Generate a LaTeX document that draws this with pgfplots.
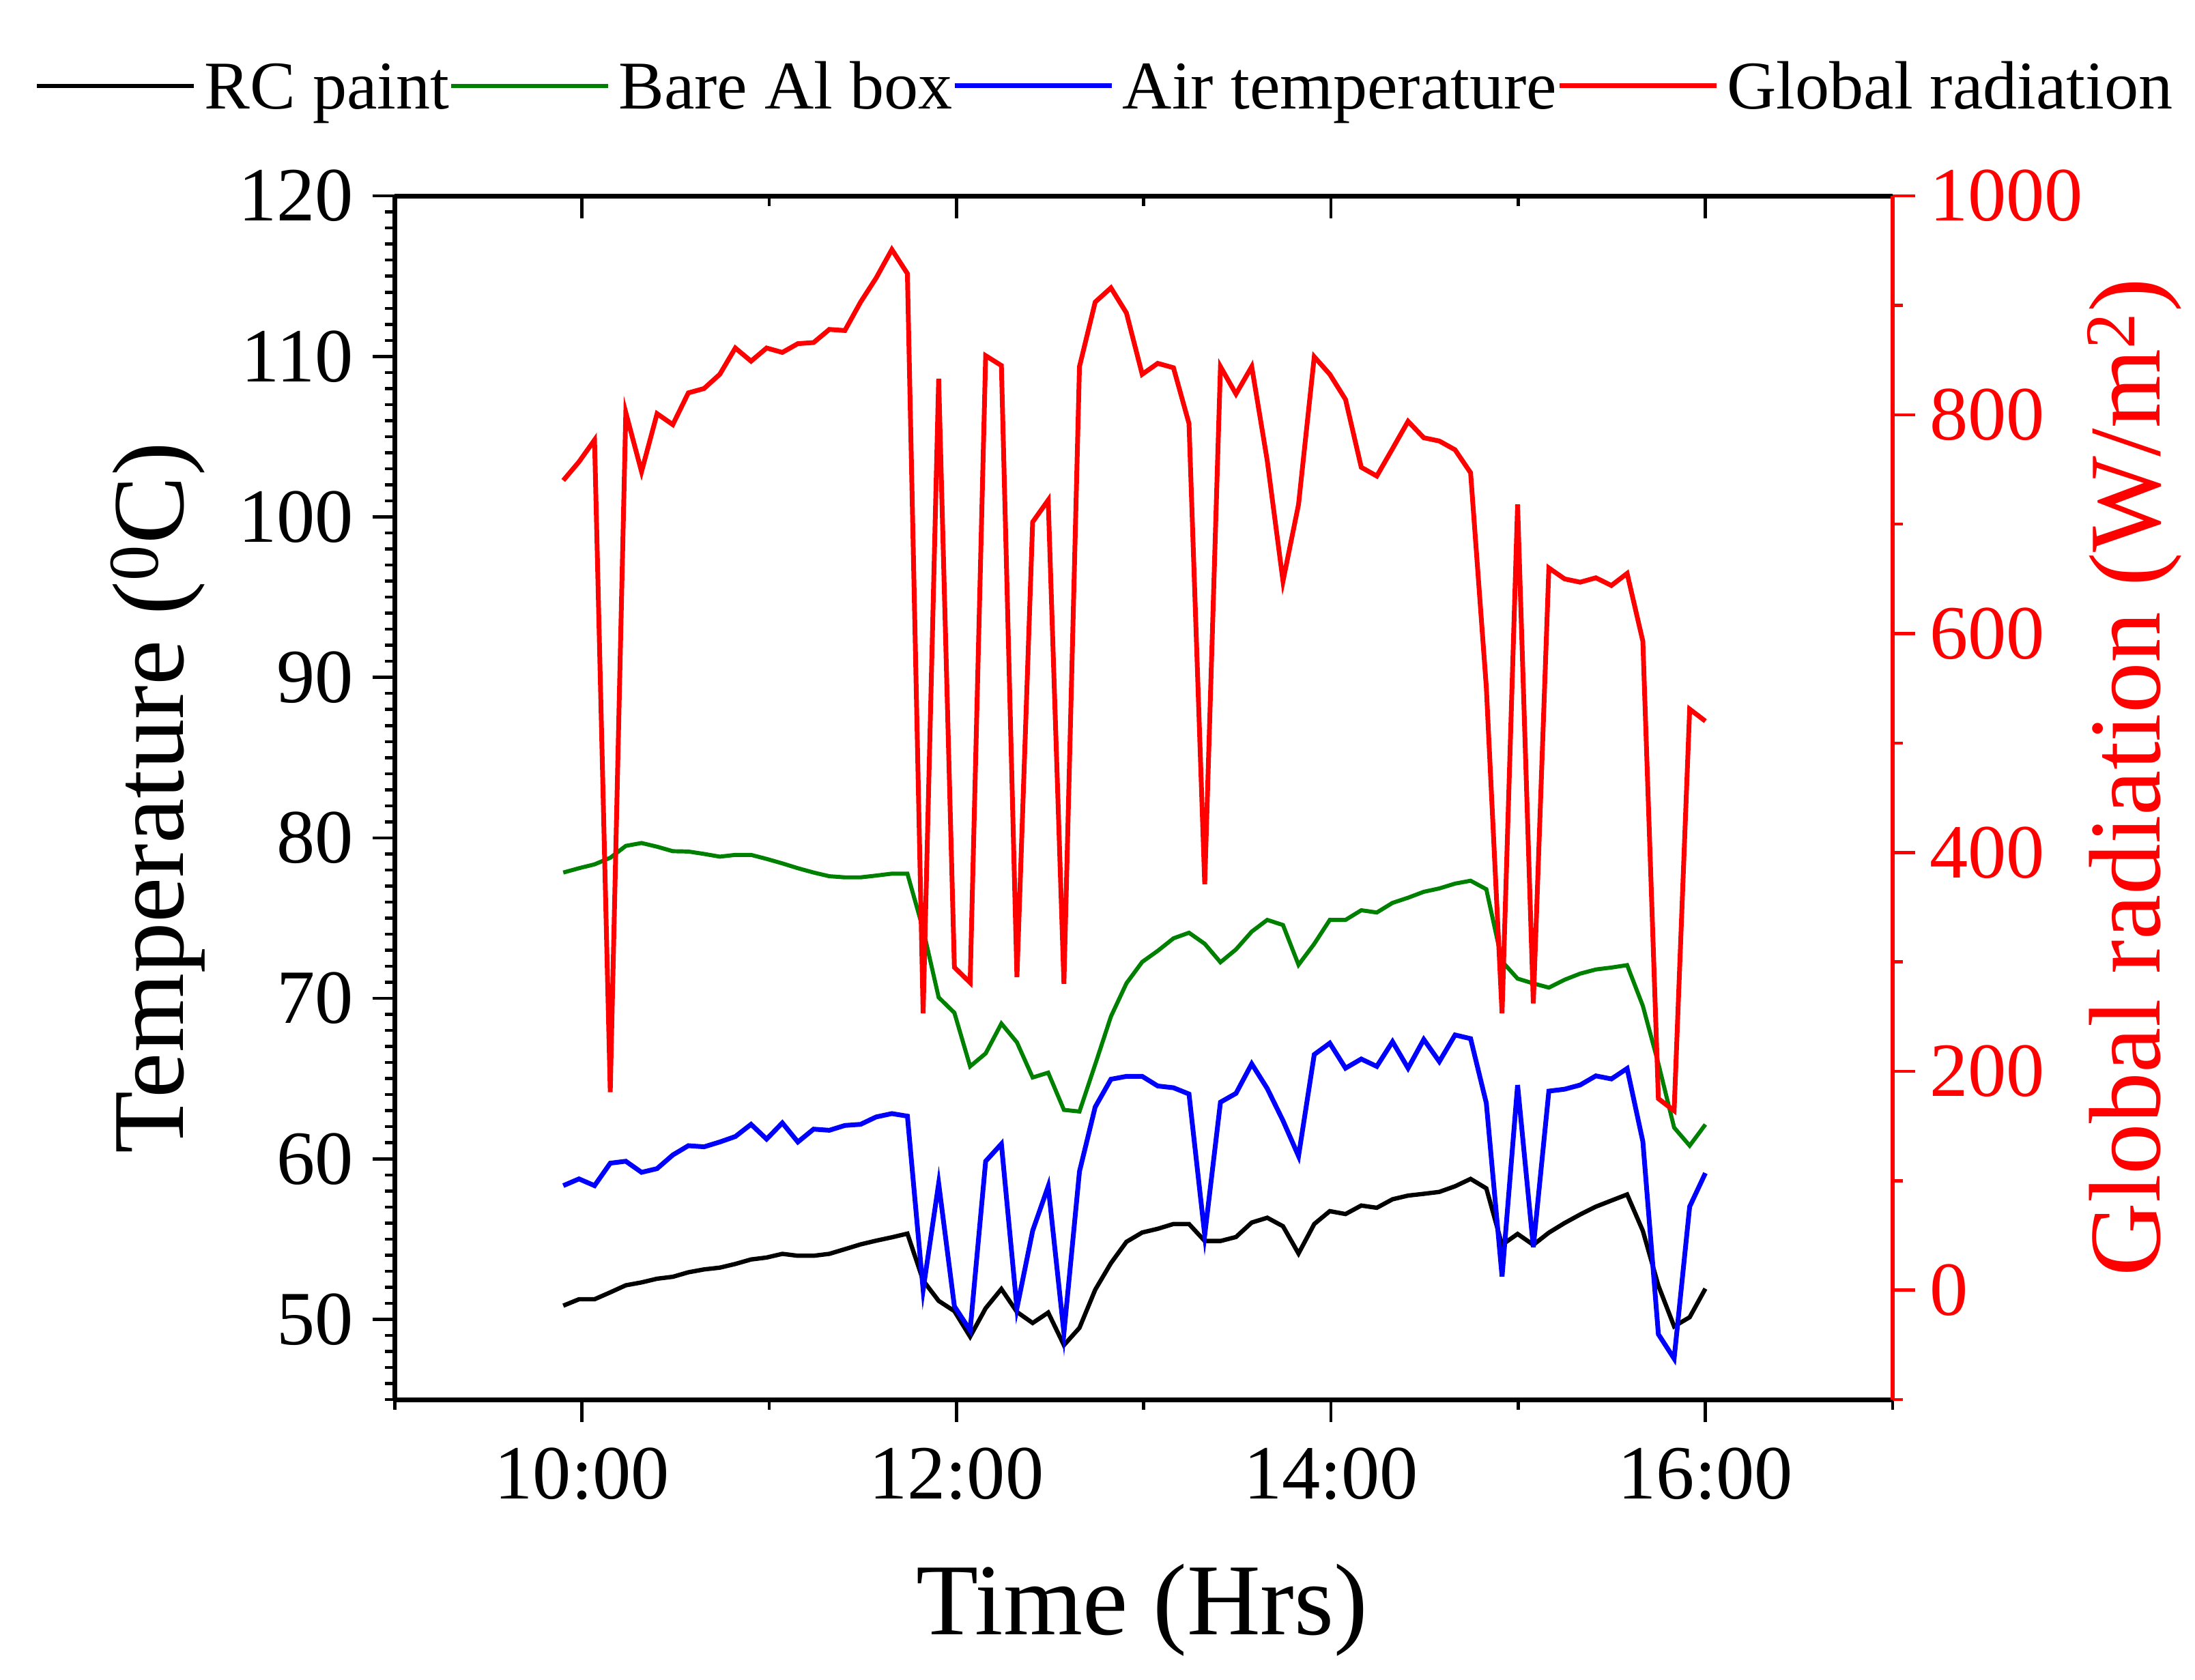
\documentclass[border=0pt]{standalone}
\usepackage{fontspec}
\setmainfont{Liberation Serif}
\usepackage{pgfplots}
\usepackage{pgfplotstable}
\pgfplotsset{compat=1.18}

\pgfplotstableread{
t rc al air rad
9.900 50.85 77.84 58.33 740
9.984 51.25 78.11 58.75 757
10.067 51.25 78.35 58.33 777
10.151 51.68 78.76 59.73 181
10.234 52.12 79.50 59.85 802
10.318 52.30 79.68 59.16 748
10.401 52.53 79.45 59.39 801
10.485 52.65 79.17 60.24 791
10.568 52.93 79.15 60.82 820
10.652 53.11 79.00 60.75 824
10.736 53.22 78.83 61.05 837
10.819 53.45 78.94 61.39 861
10.903 53.73 78.94 62.15 849
10.986 53.85 78.69 61.23 861
11.070 54.08 78.41 62.24 857
11.153 53.96 78.11 61.05 865
11.237 53.96 77.84 61.85 866
11.321 54.08 77.61 61.78 878
11.404 54.37 77.54 62.08 877
11.488 54.67 77.54 62.15 903
11.571 54.90 77.65 62.61 925
11.655 55.11 77.77 62.82 951
11.738 55.34 77.77 62.66 929
11.822 52.42 74.30 51.84 253
11.905 51.15 70.06 58.47 833
11.989 50.51 69.10 50.81 295
12.073 48.92 65.76 49.31 281
12.156 50.69 66.57 59.85 854
12.240 51.89 68.43 60.93 845
12.323 50.46 67.26 50.69 286
12.407 49.77 65.07 55.52 702
12.490 50.42 65.37 58.29 722
12.574 48.39 63.05 49.15 280
12.657 49.47 62.95 59.21 844
12.741 51.84 65.88 63.23 903
12.825 53.50 68.87 64.96 916
12.908 54.83 70.94 65.14 893
12.992 55.41 72.27 65.14 837
13.075 55.64 72.96 64.54 847
13.159 55.94 73.74 64.43 843
13.242 55.94 74.09 64.04 792
13.326 54.88 73.40 55.25 371
13.410 54.88 72.25 63.53 844
13.493 55.13 73.05 64.08 819
13.577 56.03 74.16 65.92 844
13.660 56.33 74.89 64.38 758
13.744 55.80 74.57 62.38 648
13.827 54.10 72.09 60.17 718
13.911 55.94 73.40 66.50 853
13.994 56.74 74.89 67.21 837
14.078 56.56 74.89 65.65 814
14.162 57.09 75.49 66.22 752
14.245 56.95 75.35 65.76 744
14.329 57.48 75.95 67.30 769
14.412 57.71 76.27 65.65 794
14.496 57.82 76.64 67.44 779
14.579 57.94 76.85 66.06 776
14.663 58.29 77.15 67.72 768
14.746 58.75 77.33 67.49 747
14.830 58.16 76.80 63.47 551
14.914 54.64 72.30 52.67 253
14.997 55.32 71.23 64.60 718
15.081 54.64 70.93 54.49 262
15.164 55.40 70.67 64.22 660
15.248 56.00 71.16 64.34 650
15.331 56.53 71.54 64.60 647
15.415 57.02 71.80 65.17 651
15.498 57.40 71.92 64.98 644
15.582 57.78 72.07 65.63 655
15.666 55.51 69.53 61.08 593
15.749 52.10 65.93 49.07 175
15.833 49.56 61.95 47.55 164
15.916 50.13 60.82 57.02 531
16.000 51.91 62.14 59.11 520
}\datatable

\begin{document}
\begin{tikzpicture}
\useasboundingbox (-141bp,-100bp) rectangle (643bp,500bp);
\pgfplotsset{
  common/.style={
    width=535bp, height=430bp, scale only axis,
    at={(0,0)}, anchor=south west,
    xmin=9, xmax=17,
    major tick length=8bp, minor tick length=3.6bp,
    tick align=outside,
    /pgf/number format/assume math mode=true,
    /pgf/number format/1000 sep={},
    tick label style={font=\fontsize{27.5}{30}\selectfont},
    label style={font=\fontsize{36.5}{40}\selectfont},
  },
}
\begin{axis}[common,
  ymin=45, ymax=120,
  axis x line*=bottom, axis y line*=left,
  xtick={10,12,14,16}, xticklabels={10:00,12:00,14:00,16:00},
  minor xtick={9,11,13,15,17},
  ytick={50,60,...,120}, minor ytick={45,46,...,120},
  axis line style={line width=1.7bp},
  tick style={line width=1.1bp,black},
  xlabel={Time (Hrs)},
  ylabel={Temperature (\textsuperscript{0}C)},
  xlabel style={at={(axis description cs:0.499,-0.1953)}, anchor=base},
  ylabel style={at={(axis description cs:-0.1411,0.5)}, anchor=base},
  yticklabel style={anchor=east, inner sep=0pt, xshift=-6.5bp},
  xticklabel style={anchor=north, inner sep=0pt, yshift=-9bp},
]
\addplot[black, line width=1.55bp] table[x=t,y=rc]{\datatable};
\addplot[green!50!black, line width=1.45bp] table[x=t,y=al]{\datatable};
\addplot[blue, line width=1.7bp] table[x=t,y=air]{\datatable};
\end{axis}

\begin{axis}[common,
  ymin=0, ymax=1,
  axis x line*=top, axis y line=none,
  tick align=inside,
  xtick={10,12,14,16}, xticklabels={},
  minor xtick={9,11,13,15,17},
  axis line style={line width=1.7bp},
  tick style={line width=1.1bp,black},
]
\end{axis}

\begin{axis}[common,
  ymin=-100, ymax=1000,
  axis x line=none, axis y line*=right,
  ytick={0,200,...,1000}, minor ytick={-100,100,...,900},
  axis line style={red, line width=1.4bp},
  tick style={red, line width=1.1bp},
  yticklabel style={red, anchor=west, inner sep=0pt, xshift=5bp},
  ylabel={Global radiation (W/m\textsuperscript{2})},
  ylabel style={red, at={(axis description cs:1.1785,0.517)}, anchor=base},
  legend columns=-1,
  legend image code/.code={\draw[#1] (0bp,8.3bp) -- (56bp,8.3bp);},
  legend style={at={(axis description cs:-0.2402,1.0686)}, anchor=south west,
    draw=none, fill=none, inner sep=0pt, outer sep=0pt,
    font=\fontsize{24.5}{28}\selectfont,
    /tikz/every even column/.append style={column sep=0pt},
    /tikz/every odd column/.append style={column sep=3bp},
    nodes={inner sep=0pt, outer sep=0pt},
    cells={anchor=base west, inner sep=0pt, outer sep=0pt}},
]
\addlegendimage{black, line width=1.55bp}
\addlegendentry{RC paint}
\addlegendimage{green!50!black, line width=1.45bp}
\addlegendentry{Bare Al box}
\addlegendimage{blue, line width=1.7bp}
\addlegendentry{Air temperature}
\addplot[red, line width=1.7bp] table[x=t,y=rad]{\datatable};
\addlegendentry{Global radiation}
\end{axis}
\end{tikzpicture}
\end{document}
